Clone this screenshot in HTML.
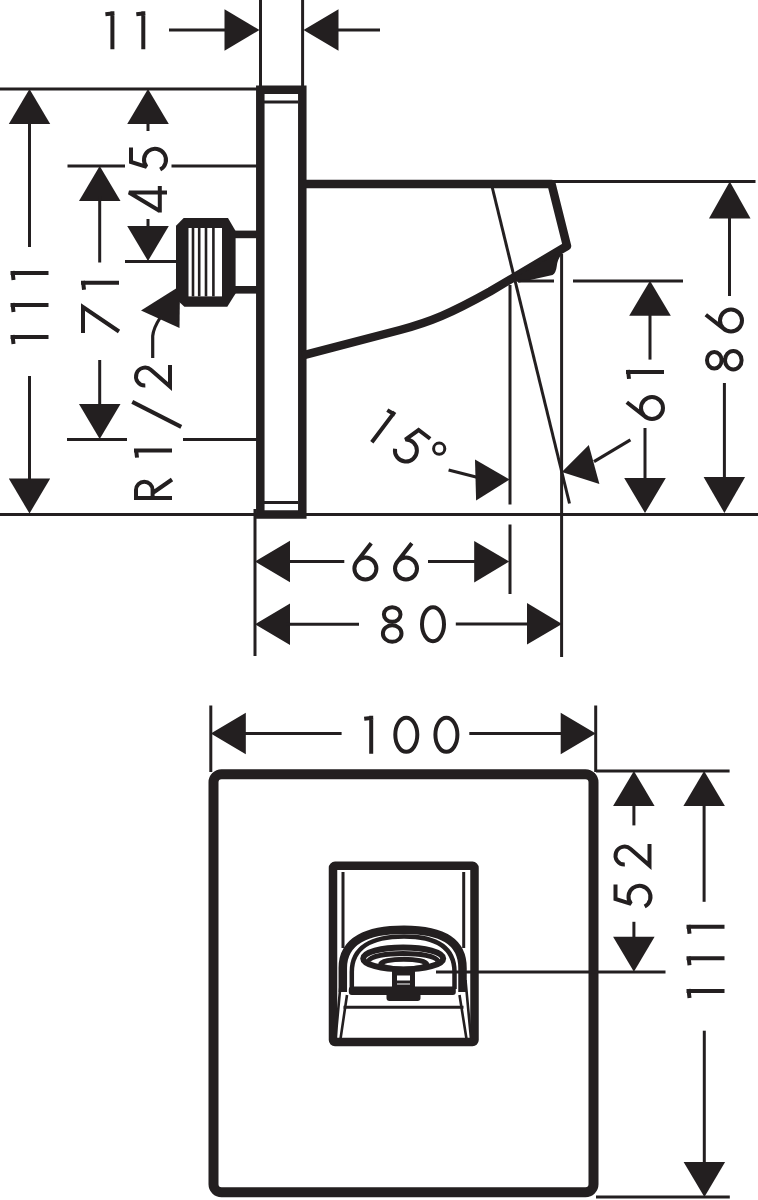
<!DOCTYPE html>
<html><head><meta charset="utf-8"><style>
html,body{margin:0;padding:0;background:#fff;}
body{width:758px;height:1200px;overflow:hidden;font-family:"Liberation Sans",sans-serif;}
svg{display:block;}
line{stroke:#231f20;}
.s{fill:none;stroke:#231f20;}
.g{fill:none;stroke:#231f20;stroke-linecap:butt;stroke-linejoin:miter;stroke-miterlimit:3;}
.f{fill:#231f20;stroke:none;}
</style></head><body>
<svg width="758" height="1200" viewBox="0 0 758 1200">
<line x1="260.5" y1="0" x2="260.5" y2="88" stroke-width="3"/>
<line x1="302.6" y1="0" x2="302.6" y2="88" stroke-width="3"/>
<line x1="169" y1="30" x2="228" y2="30" stroke-width="3"/>
<polygon class="f" points="259.5,30.0 224.5,50.8 224.5,9.2"/>
<line x1="335" y1="30" x2="380" y2="30" stroke-width="3"/>
<polygon class="f" points="303.5,30.0 338.5,9.2 338.5,50.8"/>
<path class="g" transform="translate(104.4,11.3)" d="M8,0 L8,38 M10,2 L1,3" stroke-width="4"/>
<path class="g" transform="translate(135.3,11.3)" d="M8,0 L8,38 M10,2 L1,3" stroke-width="4"/>
<line x1="0" y1="89" x2="258" y2="89" stroke-width="3"/>
<line x1="0" y1="514.6" x2="758" y2="514.6" stroke-width="3"/>
<path class="s" stroke-width="8.5" d="M260.3,89.8 L302.3,89.8 L302.3,514.5 L260.3,514.5 Z"/>
<line x1="264" y1="102" x2="298" y2="102" stroke-width="3.2"/>
<line x1="264" y1="502.5" x2="298" y2="502.5" stroke-width="3.2"/>
<polygon class="f" points="29.5,89.0 50.2,124.0 8.8,124.0"/>
<line x1="29.5" y1="120" x2="29.5" y2="247" stroke-width="3"/>
<path class="g" transform="translate(10.5,281) rotate(-90)" d="M8,0 L8,38 M10,2 L1,3" stroke-width="4"/>
<path class="g" transform="translate(10.5,313) rotate(-90)" d="M8,0 L8,38 M10,2 L1,3" stroke-width="4"/>
<path class="g" transform="translate(10.5,345) rotate(-90)" d="M8,0 L8,38 M10,2 L1,3" stroke-width="4"/>
<line x1="29.5" y1="376" x2="29.5" y2="484" stroke-width="3"/>
<polygon class="f" points="29.5,513.5 8.8,478.5 50.2,478.5"/>
<polygon class="f" points="148.0,89.0 168.8,124.0 127.2,124.0"/>
<line x1="148" y1="120" x2="148" y2="131" stroke-width="3"/>
<path class="g" transform="translate(129,171.5) rotate(-90)" d="M24,2 L9.5,2 L4.63,17.57 A11,11 0 1,1 1.99,31.16" stroke-width="4"/>
<path class="g" transform="translate(129,212.5) rotate(-90)" d="M20,38 L20,0 L1.5,30.8 M0,30.8 L26.5,30.8" stroke-width="4"/>
<line x1="148" y1="219" x2="148" y2="232" stroke-width="3"/>
<polygon class="f" points="148.0,261.0 127.2,226.0 168.8,226.0"/>
<line x1="125" y1="261.5" x2="177" y2="261.5" stroke-width="3"/>
<line x1="67.5" y1="166" x2="125" y2="166" stroke-width="3"/>
<line x1="171.5" y1="166" x2="257" y2="166" stroke-width="3"/>
<polygon class="f" points="99.7,166.0 120.5,201.0 79.0,201.0"/>
<line x1="99.7" y1="196" x2="99.7" y2="262.5" stroke-width="3"/>
<path class="g" transform="translate(81,290.8) rotate(-90)" d="M8,0 L8,38 M10,2 L1,3" stroke-width="4"/>
<path class="g" transform="translate(81,333) rotate(-90)" d="M0,2 L26,2 L1.5,38" stroke-width="4"/>
<line x1="99.7" y1="360" x2="99.7" y2="409" stroke-width="3"/>
<polygon class="f" points="99.7,439.0 79.0,404.0 120.5,404.0"/>
<line x1="67" y1="439.5" x2="127" y2="439.5" stroke-width="3"/>
<line x1="183" y1="439.5" x2="257" y2="439.5" stroke-width="3"/>
<path class="g" transform="translate(134,500) rotate(-90)" d="M2,38 L2,2 L10,2 A8.3,8.3 0 0,1 10,18.6 L2,18.6 M7,18.6 L20.5,38" stroke-width="4"/>
<path class="g" transform="translate(134,458.6) rotate(-90)" d="M8,0 L8,38 M10,2 L1,3" stroke-width="4"/>
<path class="g" transform="translate(134.25,426.9) rotate(-90)" d="M0,47 L25,-2" stroke-width="4"/>
<path class="g" transform="translate(134,389) rotate(-90)" d="M3.41,11.31 A9,9 0 1,1 19.00,17.12 L2.5,36 L24,36" stroke-width="4"/>
<path class="s" stroke-width="3.2" d="M152.7,358 L152.7,336 Q153.5,328 160,318"/>
<polygon class="f" points="180.0,286.0 141.0,310.5 179.5,328.0"/>
<polygon class="f" points="183.7,218 228,218 235.6,231 235.6,293.6 227.3,306.8 184.4,306.8 176,299 176,225.8"/>
<rect x="188.5" y="228" width="33.5" height="68.4" fill="#fff"/>
<rect class="f" x="191.7" y="228" width="2.6" height="68.4"/>
<rect class="f" x="197.89999999999998" y="228" width="2.6" height="68.4"/>
<rect class="f" x="204.7" y="228" width="2.6" height="68.4"/>
<rect class="f" x="212.1" y="228" width="2.6" height="68.4"/>
<line x1="230" y1="226" x2="230" y2="290" stroke="#555" stroke-width="1"/>
<rect class="f" x="235" y="230.6" width="22" height="7.6"/>
<rect class="f" x="235" y="286" width="22" height="7.6"/>
<path class="s" stroke-width="8.5" stroke-linejoin="round" d="M302,184 L551.5,184 L567,246 L490,291.5 C450,313.8 430,322 400,330 L302,355.6"/>
<path class="f" d="M512,279.2 L519,282.6 L552.5,275 Q556,273 556.8,266 Q557.5,259 562,254 L563,250.7 Z"/>
<line x1="553" y1="181.4" x2="755.5" y2="181.4" stroke-width="3"/>
<line x1="518" y1="281" x2="554" y2="281" stroke-width="3"/>
<line x1="573" y1="281" x2="683" y2="281" stroke-width="3"/>
<line x1="491.9" y1="186" x2="569.5" y2="503.5" stroke-width="3"/>
<line x1="510" y1="285" x2="510" y2="504.5" stroke-width="3"/>
<line x1="510" y1="524.5" x2="510" y2="594" stroke-width="3"/>
<line x1="561.6" y1="254" x2="561.6" y2="657" stroke-width="3"/>
<polygon class="f" points="650.0,280.7 670.8,315.7 629.2,315.7"/>
<line x1="650" y1="310" x2="650" y2="359.6" stroke-width="3"/>
<path class="g" transform="translate(626,379.9) rotate(-90)" d="M8,0 L8,38 M10,2 L1,3" stroke-width="4"/>
<path class="g" transform="translate(626,421) rotate(-90)" d="M18.8,0.8 L4.35,19.21 M2,26 A11,11 0 1,0 24,26 A11,11 0 1,0 2,26 Z" stroke-width="4"/>
<line x1="645" y1="428" x2="645" y2="485" stroke-width="3"/>
<polygon class="f" points="645.0,513.0 624.2,478.0 665.8,478.0"/>
<polygon class="f" points="729.8,181.4 750.5,218.4 709.0,218.4"/>
<line x1="729.5" y1="214" x2="729.5" y2="296" stroke-width="3"/>
<path class="g" transform="translate(705,333.5) rotate(-90)" d="M18.8,0.8 L4.35,19.21 M2,26 A11,11 0 1,0 24,26 A11,11 0 1,0 2,26 Z" stroke-width="4"/>
<path class="g" transform="translate(705,372) rotate(-90)" d="M3.5,9.3 A8.3,7.3 0 1,0 20.1,9.3 A8.3,7.3 0 1,0 3.5,9.3 Z M2.5,28.3 A9.3,8.3 0 1,0 21.1,28.3 A9.3,8.3 0 1,0 2.5,28.3 Z" stroke-width="4"/>
<line x1="724.4" y1="383" x2="724.4" y2="481" stroke-width="3"/>
<polygon class="f" points="724.4,513.0 703.6,477.0 745.1,477.0"/>
<line x1="448.6" y1="470" x2="478" y2="477.5" stroke-width="3.2"/>
<polygon class="f" points="509.6,479.4 475.0,459.4 476.1,500.5"/>
<path class="g" transform="translate(388.3,407.1) rotate(37)" d="M8,0 L8,38 M10,2 L1,3" stroke-width="4"/>
<path class="g" transform="translate(412.2,422.7) rotate(37)" d="M24,2 L9.5,2 L4.63,17.57 A11,11 0 1,1 1.99,31.16" stroke-width="4"/>
<circle class="s" cx="439.2" cy="448.7" r="5.6" stroke-width="3"/>
<line x1="594" y1="461.6" x2="630.4" y2="439.8" stroke-width="3.2"/>
<polygon class="f" points="561.8,472.1 588.8,445.0 599.4,484.0"/>
<line x1="255" y1="509" x2="255" y2="656" stroke-width="3"/>
<polygon class="f" points="255.0,561.5 290.0,540.8 290.0,582.2"/>
<line x1="286" y1="561.5" x2="344.3" y2="561.5" stroke-width="3"/>
<path class="g" transform="translate(352.4,542.5)" d="M18.8,0.8 L4.35,19.21 M2,26 A11,11 0 1,0 24,26 A11,11 0 1,0 2,26 Z" stroke-width="4"/>
<path class="g" transform="translate(393,542.5)" d="M18.8,0.8 L4.35,19.21 M2,26 A11,11 0 1,0 24,26 A11,11 0 1,0 2,26 Z" stroke-width="4"/>
<line x1="428" y1="561.6" x2="478" y2="561.6" stroke-width="3"/>
<polygon class="f" points="509.2,561.6 474.2,582.4 474.2,540.9"/>
<polygon class="f" points="255.0,624.2 290.0,603.5 290.0,645.0"/>
<line x1="286" y1="624.2" x2="359" y2="624.2" stroke-width="3"/>
<path class="g" transform="translate(380.4,605.2)" d="M3.5,9.3 A8.3,7.3 0 1,0 20.1,9.3 A8.3,7.3 0 1,0 3.5,9.3 Z M2.5,28.3 A9.3,8.3 0 1,0 21.1,28.3 A9.3,8.3 0 1,0 2.5,28.3 Z" stroke-width="4"/>
<path class="g" transform="translate(420,605.2)" d="M2,19 A11,17 0 1,0 24,19 A11,17 0 1,0 2,19 Z" stroke-width="4"/>
<line x1="455.8" y1="624" x2="531" y2="624" stroke-width="3"/>
<polygon class="f" points="562.0,623.9 527.0,644.6 527.0,603.1"/>
<line x1="210.8" y1="705.5" x2="210.8" y2="772" stroke-width="3"/>
<line x1="595.7" y1="705.5" x2="595.7" y2="772" stroke-width="3"/>
<polygon class="f" points="210.8,733.5 245.8,712.8 245.8,754.2"/>
<line x1="242" y1="733.6" x2="341.6" y2="733.6" stroke-width="3"/>
<path class="g" transform="translate(363.2,715.8)" d="M8,0 L8,38 M10,2 L1,3" stroke-width="4"/>
<path class="g" transform="translate(393.3,715.8)" d="M2,19 A11,17 0 1,0 24,19 A11,17 0 1,0 2,19 Z" stroke-width="4"/>
<path class="g" transform="translate(433.4,715.8)" d="M2,19 A11,17 0 1,0 24,19 A11,17 0 1,0 2,19 Z" stroke-width="4"/>
<line x1="469.3" y1="733.6" x2="564" y2="733.6" stroke-width="3"/>
<polygon class="f" points="595.7,733.5 560.7,754.2 560.7,712.8"/>
<rect class="s" x="213.5" y="774.2" width="380" height="418" rx="8" stroke-width="10"/>
<line x1="596" y1="771" x2="729.6" y2="771" stroke-width="3"/>
<line x1="596" y1="1197" x2="729.8" y2="1197" stroke-width="3"/>
<polygon class="f" points="633.9,771.0 654.6,806.0 613.1,806.0"/>
<line x1="633.9" y1="801" x2="633.9" y2="825.4" stroke-width="3"/>
<path class="g" transform="translate(613.5,868) rotate(-90)" d="M3.41,11.31 A9,9 0 1,1 19.00,17.12 L2.5,36 L24,36" stroke-width="4"/>
<path class="g" transform="translate(613.5,908.5) rotate(-90)" d="M24,2 L9.5,2 L4.63,17.57 A11,11 0 1,1 1.99,31.16" stroke-width="4"/>
<line x1="633.9" y1="921.8" x2="633.9" y2="942" stroke-width="3"/>
<polygon class="f" points="633.9,971.8 613.1,936.8 654.6,936.8"/>
<line x1="436" y1="972" x2="665.5" y2="972" stroke-width="3"/>
<polygon class="f" points="704.1,771.0 724.9,806.0 683.4,806.0"/>
<line x1="704.1" y1="801" x2="704.1" y2="901.8" stroke-width="3"/>
<path class="g" transform="translate(686.5,934.8) rotate(-90)" d="M8,0 L8,38 M10,2 L1,3" stroke-width="4"/>
<path class="g" transform="translate(686.5,966.3) rotate(-90)" d="M8,0 L8,38 M10,2 L1,3" stroke-width="4"/>
<path class="g" transform="translate(686.5,999) rotate(-90)" d="M8,0 L8,38 M10,2 L1,3" stroke-width="4"/>
<line x1="704.3" y1="1030.7" x2="704.3" y2="1167" stroke-width="3"/>
<polygon class="f" points="704.4,1197.0 683.6,1162.0 725.1,1162.0"/>
<rect class="s" x="333" y="865.8" width="141.5" height="176.2" rx="2" stroke-width="8.5"/>
<path class="s" stroke-width="3" d="M343,872 L343,948 M463.7,872 L463.7,948"/>
<path class="s" stroke-width="8.5" d="M342.8,992 L342.8,968 C342.8,940 368,929.8 404,929.8 C440,929.8 462.5,940 462.5,968 L462.5,992"/>
<path class="s" stroke-width="4.5" d="M351.8,989 L351.8,972 C351.8,947 372,936.5 404,936.5 C436,936.5 454.5,947 454.5,972 L454.5,989"/>
<path class="s" stroke-width="2.6" d="M340.5,985 L335.5,1039 M347,995 L340.5,1039 M465.5,980 L471,1039 M459.5,995 L466.5,1039"/>
<ellipse class="s" cx="403.2" cy="958.4" rx="40" ry="11" stroke-width="6"/>
<path class="s" stroke-width="5" d="M368.5,961 C372,951 434,951 438,961"/>
<ellipse class="s" cx="403.7" cy="964.2" rx="23" ry="5" stroke-width="5"/>
<rect class="s" x="394.5" y="973" width="18" height="14" stroke-width="5"/>
<line x1="394" y1="982" x2="413" y2="982" stroke-width="3"/>
<rect class="f" x="348.8" y="986.4" width="107" height="8.6" rx="3"/>
<rect class="f" x="386.5" y="987" width="34" height="14" rx="3"/>
<line x1="343.5" y1="1007.3" x2="463.5" y2="1007.3" stroke-width="3"/>
</svg>
</body></html>
